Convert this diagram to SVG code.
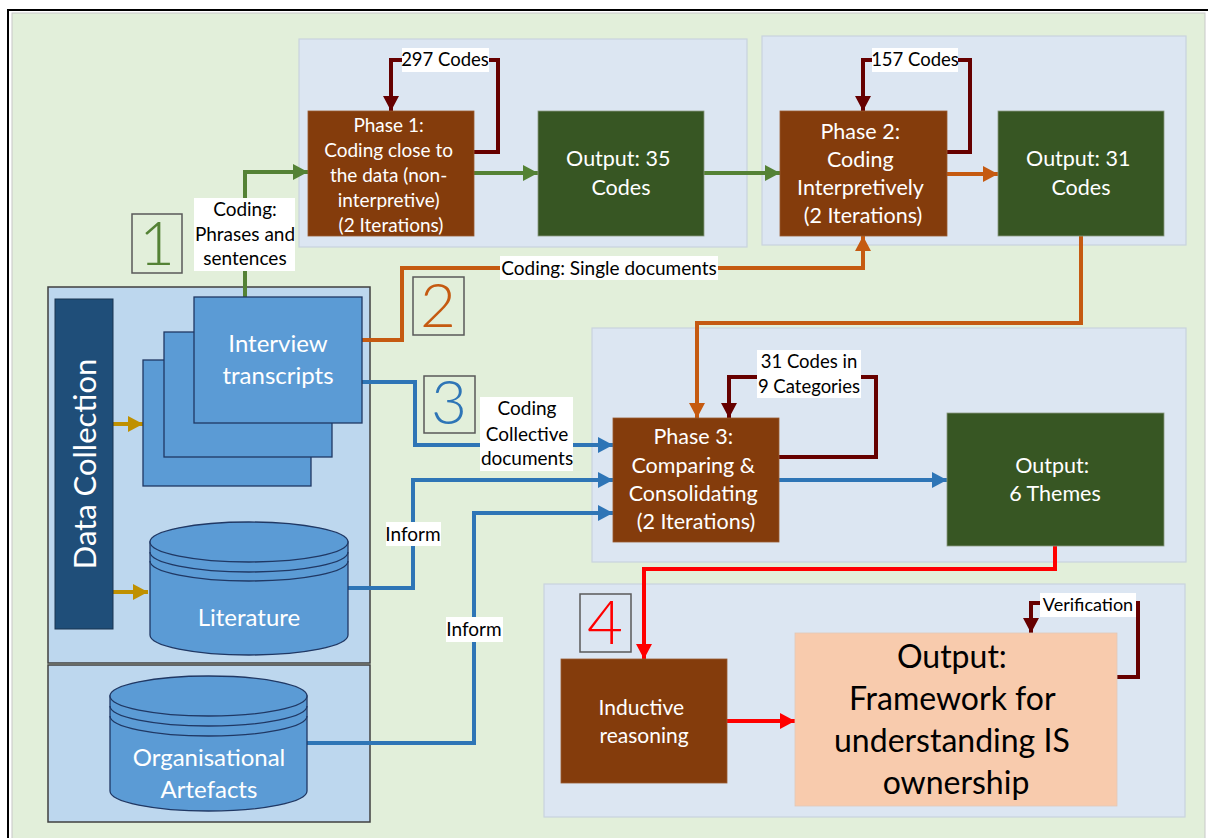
<svg xmlns="http://www.w3.org/2000/svg" width="1208" height="838" viewBox="0 0 1208 838">
  <style>
    text { font-family: Lato, "Liberation Sans", sans-serif; }
    .panel { fill: #dce6f2; stroke: #c9d3de; stroke-width: 1.2; }
    .dc { fill: #bdd7ee; stroke: #404040; stroke-width: 1.5; }
    .phase { fill: #843c0c; stroke: #9a5a30; stroke-width: 0.8; }
    .out { fill: #375623; stroke: #8a9a80; stroke-width: 0.8; }
    .doc { fill: #5b9bd5; stroke: #203864; stroke-width: 1.3; }
    .wt { fill: #ffffff; text-anchor: middle; }
    .lbl { fill: #000000; text-anchor: middle; font-size: 19px; }
    .lblbg { fill: #ffffff; }
    .num { fill: none; stroke: #595959; stroke-width: 1.5; }
    .numt { text-anchor: middle; font-size: 62px; font-weight: 300; }
    .c { fill: none; stroke-width: 4; }
    .green { stroke: #548235; }
    .orange { stroke: #c55a11; }
    .blue { stroke: #2e75b6; }
    .maroon { stroke: #660000; }
    .red { stroke: #ff0000; }
    .gold { stroke: #bf9000; }
  </style>
  <defs>
    <marker id="ah-green" markerUnits="userSpaceOnUse" markerWidth="16" markerHeight="16" refX="15" refY="8" orient="auto"><path d="M0,0 L15,8 L0,16 z" fill="#548235"/></marker>
    <marker id="ah-orange" markerUnits="userSpaceOnUse" markerWidth="16" markerHeight="16" refX="15" refY="8" orient="auto"><path d="M0,0 L15,8 L0,16 z" fill="#c55a11"/></marker>
    <marker id="ah-blue" markerUnits="userSpaceOnUse" markerWidth="16" markerHeight="16" refX="15" refY="8" orient="auto"><path d="M0,0 L15,8 L0,16 z" fill="#2e75b6"/></marker>
    <marker id="ah-maroon" markerUnits="userSpaceOnUse" markerWidth="16" markerHeight="16" refX="15" refY="8" orient="auto"><path d="M0,0 L15,8 L0,16 z" fill="#660000"/></marker>
    <marker id="ah-red" markerUnits="userSpaceOnUse" markerWidth="16" markerHeight="16" refX="15" refY="8" orient="auto"><path d="M0,0 L15,8 L0,16 z" fill="#ff0000"/></marker>
    <marker id="ah-gold" markerUnits="userSpaceOnUse" markerWidth="16" markerHeight="16" refX="15" refY="8" orient="auto"><path d="M0,0 L15,8 L0,16 z" fill="#bf9000"/></marker>
  </defs>

  <!-- frame and background -->
  <rect x="0" y="0" width="1208" height="838" fill="#ffffff"/>
  <rect x="8" y="10" width="1212" height="840" fill="#ffffff" stroke="#000000" stroke-width="2"/>
  <rect x="12" y="13" width="1193" height="830" fill="#e2efda" stroke="#c8c8c8" stroke-width="1"/>

  <!-- phase panels -->
  <g id="panels">
    <rect class="panel" x="299" y="39" width="448" height="208"/>
    <rect class="panel" x="762" y="36" width="424" height="209"/>
    <rect class="panel" x="592" y="328" width="594" height="234"/>
    <rect class="panel" x="544" y="584" width="641" height="233"/>
    <rect class="dc" x="48" y="287" width="322" height="376"/>
    <rect class="dc" x="48" y="665" width="322" height="157"/>
  </g>

  <!-- connectors -->
  <g id="connectors">
    <path class="c green" d="M245,297 V172 H308" marker-end="url(#ah-green)"/>
    <path class="c green" d="M474,173 H538" marker-end="url(#ah-green)"/>
    <path class="c green" d="M704,173 H780" marker-end="url(#ah-green)"/>
    <path class="c orange" d="M947,174 H998" marker-end="url(#ah-orange)"/>
    <path class="c orange" d="M362,340 H402 V268 H863 V236" marker-end="url(#ah-orange)"/>
    <path class="c orange" d="M1081,236 V323 H697 V418" marker-end="url(#ah-orange)"/>
    <path class="c blue" d="M362,382 H415 V445 H613" marker-end="url(#ah-blue)"/>
    <path class="c blue" d="M348,588 H413 V480 H613" marker-end="url(#ah-blue)"/>
    <path class="c blue" d="M307,743 H474 V513 H613" marker-end="url(#ah-blue)"/>
    <path class="c blue" d="M779,480 H947" marker-end="url(#ah-blue)"/>
    <path class="c maroon" d="M474,152 H498 V60 H391 V111" marker-end="url(#ah-maroon)"/>
    <path class="c maroon" d="M947,152 H970 V60 H863 V111" marker-end="url(#ah-maroon)"/>
    <path class="c maroon" d="M779,457 H876 V377 H729 V418" marker-end="url(#ah-maroon)"/>
    <path class="c maroon" d="M1117,677 H1138 V603 H1031 V633" marker-end="url(#ah-maroon)"/>
    <path class="c red" d="M1055,546 V569 H644 V659" marker-end="url(#ah-red)"/>
    <path class="c red" d="M727,721 H795" marker-end="url(#ah-red)"/>
    <path class="c gold" d="M113,424 H143" marker-end="url(#ah-gold)"/>
    <path class="c gold" d="M113,592 H148" marker-end="url(#ah-gold)"/>
  </g>

  <!-- connector labels -->
  <g id="labels">
    <rect class="lblbg" x="194" y="198" width="101" height="73"/>
    <text class="lbl" x="245" y="216">Coding:</text>
    <text class="lbl" x="245" y="241">Phrases and</text>
    <text class="lbl" x="245" y="265">sentences</text>

    <rect class="lblbg" x="402" y="48" width="87" height="24"/>
    <text class="lbl" x="445" y="66" style="font-size:18.5px">297 Codes</text>

    <rect class="lblbg" x="872" y="48" width="86" height="24"/>
    <text class="lbl" x="915" y="66" style="font-size:18.5px">157 Codes</text>

    <rect class="lblbg" x="500" y="256" width="218" height="24"/>
    <text class="lbl" x="609" y="275">Coding: Single documents</text>

    <rect class="lblbg" x="480" y="397" width="93" height="74"/>
    <text class="lbl" x="527" y="415">Coding</text>
    <text class="lbl" x="527" y="441">Collective</text>
    <text class="lbl" x="527" y="465">documents</text>

    <rect class="lblbg" x="757" y="350" width="104" height="48"/>
    <text class="lbl" x="809" y="368" style="font-size:18.5px">31 Codes in</text>
    <text class="lbl" x="809" y="393" style="font-size:18.5px">9 Categories</text>

    <rect class="lblbg" x="386" y="522" width="55" height="24"/>
    <text class="lbl" x="413" y="541">Inform</text>

    <rect class="lblbg" x="446" y="617" width="57" height="25"/>
    <text class="lbl" x="474" y="636">Inform</text>

    <rect class="lblbg" x="1040" y="593" width="96" height="24"/>
    <text class="lbl" x="1088" y="611" style="font-size:18px">Verification</text>
  </g>

  <!-- step numbers -->
  <g id="step-1">
    <rect class="num" x="132" y="214" width="50" height="59"/>
    <text class="numt" x="157" y="265" fill="#548235">1</text>
  </g>
  <g id="step-2">
    <rect class="num" x="413" y="277" width="51" height="58"/>
    <text class="numt" x="438" y="327" fill="#c55a11">2</text>
  </g>
  <g id="step-3">
    <rect class="num" x="424" y="376" width="51" height="57"/>
    <text class="numt" x="449" y="424" fill="#2e75b6">3</text>
  </g>
  <g id="step-4">
    <rect class="num" x="580" y="594" width="51" height="58"/>
    <text class="numt" x="605" y="644" fill="#ff0000">4</text>
  </g>

  <!-- data sources -->
  <g id="data-collection">
    <rect x="55" y="299" width="58" height="330" fill="#1f4e79" stroke="#1a3550" stroke-width="1"/>
    <text class="wt" transform="translate(96,464) rotate(-90)" style="font-size:31px">Data Collection</text>
  </g>

  <g id="interview-transcripts">
    <rect class="doc" x="143" y="360" width="168" height="126"/>
    <rect class="doc" x="164" y="332" width="168" height="125"/>
    <rect class="doc" x="194" y="297" width="168" height="126"/>
    <text class="wt" x="278" y="352" style="font-size:24px">Interview</text>
    <text class="wt" x="278" y="384" style="font-size:24px">transcripts</text>
  </g>

  <g id="literature">
    <path class="doc" d="M150,542 V635 A99,20 0 0 0 348,635 V542 z"/>
    <ellipse class="doc" cx="249" cy="542" rx="99" ry="20"/>
    <path d="M150,552 A99,20 0 0 0 348,552 M150,561 A99,20 0 0 0 348,561" fill="none" stroke="#203864" stroke-width="1.3"/>
    <text class="wt" x="249" y="626" style="font-size:24px">Literature</text>
  </g>

  <g id="organisational-artefacts">
    <path class="doc" d="M110,696 V791 A98.5,20 0 0 0 307,791 V696 z"/>
    <ellipse class="doc" cx="208.5" cy="696" rx="98.5" ry="20"/>
    <path d="M110,706 A98.5,20 0 0 0 307,706 M110,716 A98.5,20 0 0 0 307,716" fill="none" stroke="#203864" stroke-width="1.3"/>
    <text class="wt" x="209" y="766" style="font-size:24px">Organisational</text>
    <text class="wt" x="209" y="798" style="font-size:24px">Artefacts</text>
  </g>

  <!-- phase 1 -->
  <g id="phase-1">
    <rect class="phase" x="308" y="111" width="166" height="125"/>
    <text class="wt" style="font-size:19px">
      <tspan x="391" y="132">Phase 1:</tspan>
      <tspan x="391" y="157">Coding close to</tspan>
      <tspan x="391" y="182">the data (non-</tspan>
      <tspan x="391" y="207">interpretive)</tspan>
      <tspan x="391" y="232">(2 Iterations)</tspan>
    </text>
  </g>
  <g id="output-35">
    <rect class="out" x="538" y="111" width="166" height="125"/>
    <text class="wt" style="font-size:21.5px">
      <tspan x="621" y="166">Output: 35</tspan>
      <tspan x="621" y="195">Codes</tspan>
    </text>
  </g>

  <!-- phase 2 -->
  <g id="phase-2">
    <rect class="phase" x="780" y="111" width="167" height="125"/>
    <text class="wt" style="font-size:21.5px">
      <tspan x="863" y="139">Phase 2:</tspan>
      <tspan x="863" y="167">Coding</tspan>
      <tspan x="863" y="195">Interpretively</tspan>
      <tspan x="863" y="223">(2 Iterations)</tspan>
    </text>
  </g>
  <g id="output-31">
    <rect class="out" x="998" y="111" width="166" height="125"/>
    <text class="wt" style="font-size:21.5px">
      <tspan x="1081" y="166">Output: 31</tspan>
      <tspan x="1081" y="195">Codes</tspan>
    </text>
  </g>

  <!-- phase 3 -->
  <g id="phase-3">
    <rect class="phase" x="613" y="418" width="166" height="124"/>
    <text class="wt" style="font-size:21.5px">
      <tspan x="696" y="444">Phase 3:</tspan>
      <tspan x="696" y="473">Comparing &amp;</tspan>
      <tspan x="696" y="501">Consolidating</tspan>
      <tspan x="696" y="529">(2 Iterations)</tspan>
    </text>
  </g>
  <g id="output-themes">
    <rect class="out" x="947" y="413" width="217" height="133"/>
    <text class="wt" style="font-size:21.5px">
      <tspan x="1055" y="473">Output:</tspan>
      <tspan x="1055" y="501">6 Themes</tspan>
    </text>
  </g>

  <!-- phase 4 -->
  <g id="inductive-reasoning">
    <rect class="phase" x="561" y="659" width="166" height="124"/>
    <text class="wt" style="font-size:21px">
      <tspan x="644" y="715">Inductive</tspan>
      <tspan x="644" y="743">reasoning</tspan>
    </text>
  </g>
  <g id="framework">
    <rect x="795" y="633" width="322" height="173" fill="#f8cbad" stroke="#e0c8b8" stroke-width="0.8"/>
    <text style="font-size:32px; text-anchor:middle; fill:#000000">
      <tspan x="956" y="668">Output:</tspan>
      <tspan x="956" y="710">Framework for</tspan>
      <tspan x="956" y="752">understanding IS</tspan>
      <tspan x="956" y="794">ownership</tspan>
    </text>
  </g>
</svg>
